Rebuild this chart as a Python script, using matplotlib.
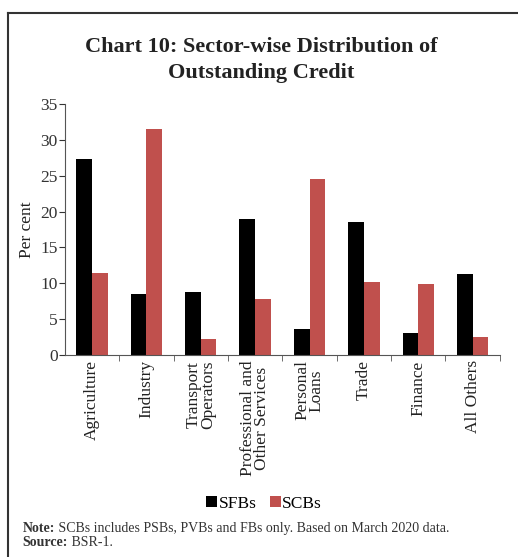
import numpy as np
import matplotlib.pyplot as plt
from matplotlib.lines import Line2D

# data
sectors = ['Agriculture', 'Industry', 'Transport\nOperators', 'Professional and\nOther Services',
           'Personal\nLoans', 'Trade', 'Finance', 'All Others']
sfbs = [27.3, 8.5, 8.8, 19.0, 3.6, 18.5, 3.0, 11.3]
scbs = [11.4, 31.6, 2.2, 7.8, 24.5, 10.1, 9.9, 2.5]
yticks = [0, 5, 10, 15, 20, 25, 30, 35]

plt.rcParams['font.family'] = ['Liberation Serif', 'DejaVu Serif']

fig = plt.figure(figsize=(5.18, 5.57), dpi=100)
ax = fig.add_axes([0.125, 0.363, 0.84, 0.45])

x = np.arange(len(sectors))
w = 0.29
ax.bar(x - w/2, sfbs, w, color='black', label='SFBs')
ax.bar(x + w/2, scbs, w, color='#c0504d', label='SCBs')

ax.set_xlim(-0.5, len(sectors) - 0.5)
ax.set_ylim(0, 35)
ax.set_yticks(yticks)
ax.tick_params(axis='y', labelsize=12.5, length=4, pad=1, colors='#333333')
ax.set_xticks(x)
ax.set_xticklabels(sectors, rotation=90, fontsize=12.5, linespacing=0.85, color='#222222')
ax.tick_params(axis='x', length=0, pad=4)
# small ticks between the categories
ax.set_xticks(np.arange(0.5, len(sectors)), minor=True)
ax.tick_params(axis='x', which='minor', length=4, color='#555555')
for s in ['top', 'right']:
    ax.spines[s].set_visible(False)
ax.spines['left'].set_color('#555555')
ax.spines['bottom'].set_color('#555555')
ax.set_ylabel('Per cent', fontsize=12.5, labelpad=4, color='#222222')

fig.text(0.505, 0.893, 'Chart 10: Sector-wise Distribution of\nOutstanding Credit',
         ha='center', va='center', fontsize=16, fontweight='bold', linespacing=1.4,
         color='#222222')

fig.legend(loc='center', bbox_to_anchor=(0.51, 0.096), ncol=2, frameon=False,
           fontsize=12.5, handlelength=0.6, handleheight=0.6, handletextpad=0.1,
           columnspacing=0.8)

# note and source: bold label followed by plain text
note = fig.text(0.044, 0.051, 'Note:', fontsize=10, fontweight='bold', color='#333333', va='center')
ax.annotate(' SCBs includes PSBs, PVBs and FBs only. Based on March 2020 data.',
            xy=(1, 0.5), xycoords=note, va='center', fontsize=10, color='#333333',
            annotation_clip=False)
src = fig.text(0.044, 0.026, 'Source:', fontsize=10, fontweight='bold', color='#333333', va='center')
ax.annotate(' BSR-1.', xy=(1, 0.5), xycoords=src, va='center', fontsize=10, color='#333333',
            annotation_clip=False)

# frame lines on top and left
fig.add_artist(Line2D([0.016, 1.0], [0.977, 0.977], color='#333333', lw=1.5))
fig.add_artist(Line2D([0.016, 0.016], [0.0, 0.977], color='#333333', lw=1.5))

fig.savefig('out.png', dpi=100)
